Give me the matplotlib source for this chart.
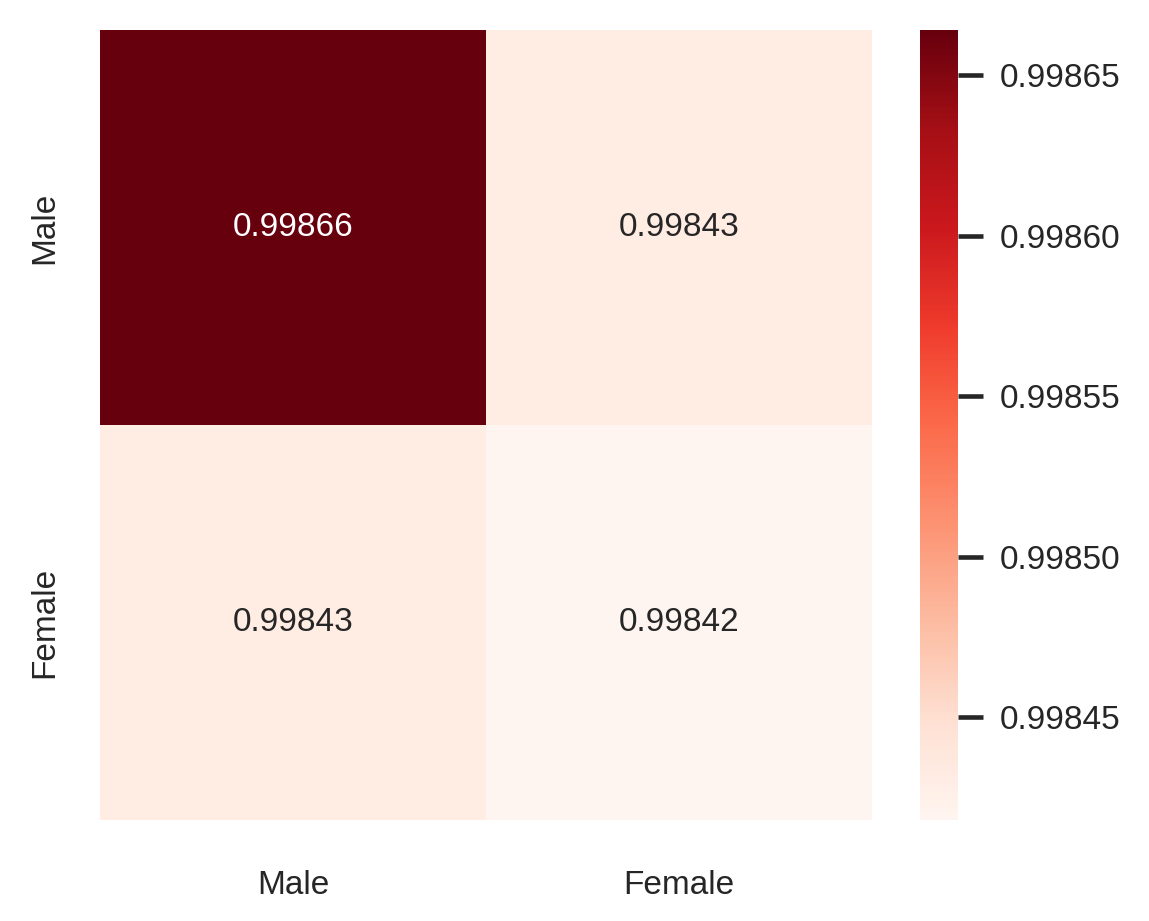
import matplotlib
matplotlib.use("Agg")
import matplotlib.pyplot as plt
import seaborn as sns
import numpy as np
import pandas as pd

labels = ["Male", "Female"]
row_male = [0.998664, 0.998432]
row_female = [0.998432, 0.998418]
cbar_ticks = [0.99845, 0.99850, 0.99855, 0.99860, 0.99865]

sns.set_style("white")
plt.rcParams['font.family'] = ['Liberation Sans', 'DejaVu Sans']

data = pd.DataFrame([row_male, row_female], index=labels, columns=labels)

fig = plt.figure(figsize=(1149/300, 921/300), dpi=300)
ax = fig.add_axes([100/1149, 1-820/921, 772/1149, 790/921])
cax = fig.add_axes([920/1149, 1-820/921, 38/1149, 790/921])

sns.heatmap(data, ax=ax, cbar_ax=cax, cmap="Reds", annot=True, fmt=".5f",
            annot_kws={"size": 8})
ax.tick_params(axis='x', length=0, labelsize=8, colors='#262626', pad=12)
ax.tick_params(axis='y', length=0, labelsize=8, colors='#262626', pad=9.6)
ax.set_yticklabels(labels, rotation=90, va='center')
ax.set_xticklabels(labels, rotation=0)
cax.set_yticks(cbar_ticks)
cax.set_yticklabels([f"{t:.5f}" for t in cbar_ticks])
cax.tick_params(axis='y', length=6, width=1.1, labelsize=8, colors='#262626', pad=4)
for s in cax.spines.values():
    s.set_visible(False)

fig.savefig("out.png", dpi=300)
